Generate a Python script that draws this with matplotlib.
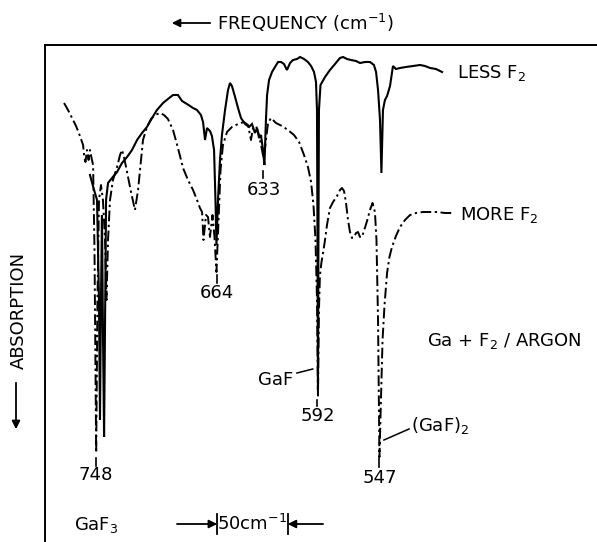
import matplotlib
matplotlib.use("Agg")
import matplotlib.pyplot as plt

plt.rcParams['font.family'] = ['DejaVu Sans']
plt.rcParams['mathtext.fontset'] = 'dejavusans'

# ---- data: wavenumber (cm^-1) and relative transmission (arb. units) ----
less_f2_freq = [753.7, 750.8, 748.7, 747.3, 746.6, 745.9, 745.2, 744.5, 743.7, 743.0,
                742.3, 740.9, 738.1, 734.5, 731.0, 727.4, 723.9, 720.3, 716.8, 713.3,
                709.7, 706.2, 701.9, 698.4, 694.8, 691.3, 688.4, 684.9, 680.6, 677.8,
                675.0, 673.5, 672.1, 670.7, 668.6, 667.2, 665.7, 664.7, 664.0, 662.9,
                661.5, 660.1, 657.9, 655.8, 654.4, 653.0, 650.8, 648.7, 646.6, 643.7,
                640.9, 638.8, 636.7, 635.2, 633.8, 632.4, 631.0, 630.0, 628.9, 628.1,
                626.7, 624.6, 622.5, 620.3, 618.2, 616.1, 614.0, 611.8, 609.7, 606.9,
                604.7, 601.9, 599.1, 596.9, 594.8, 593.4, 592.7, 592.3, 592.0, 591.7,
                591.3, 590.2, 587.0, 583.5, 579.9, 576.4, 574.2, 571.4, 568.6, 565.0,
                562.2, 558.6, 555.1, 552.3, 550.8, 549.4, 548.0, 547.0, 545.9, 544.5,
                543.0, 540.9, 538.8, 536.7, 533.8, 529.6, 524.6, 519.6, 516.1, 512.5,
                508.3, 504.0]
less_f2_trans = [73.4, 70.4, 68.4, 48.4, 24.4, 48.4, 65.4, 42.4, 21.0, 44.4,
                 68.4, 71.8, 72.8, 74.0, 75.8, 77.0, 78.4, 80.4, 81.8, 83.0,
                 84.8, 86.4, 87.8, 88.6, 89.4, 89.4, 88.2, 87.6, 86.8, 86.4,
                 85.4, 84.0, 80.4, 82.8, 82.2, 81.2, 78.4, 68.4, 59.4, 68.4,
                 76.4, 81.4, 86.4, 90.4, 91.8, 91.2, 89.0, 86.8, 84.8, 83.6,
                 83.0, 83.6, 81.8, 82.8, 80.8, 81.4, 78.4, 75.4, 84.4, 89.4,
                 92.4, 94.0, 95.0, 96.0, 96.0, 95.6, 94.4, 95.8, 96.4, 96.6,
                 97.0, 96.6, 96.0, 95.2, 94.0, 92.0, 86.4, 58.4, 30.4, 58.4,
                 86.4, 91.4, 93.0, 94.4, 95.6, 96.8, 97.0, 96.6, 96.4, 96.2,
                 95.8, 96.0, 96.0, 95.4, 94.0, 90.4, 84.4, 73.8, 86.4, 88.4,
                 89.2, 91.2, 95.2, 94.6, 94.8, 95.0, 95.2, 95.4, 95.2, 94.8,
                 94.6, 94.0]

more_f2_freq = [772.1, 769.3, 766.4, 763.6, 760.8, 758.6, 757.9, 756.9, 755.8, 754.7,
                753.7, 752.6, 751.5, 750.5, 749.3, 748.4, 747.3, 745.9, 744.5, 743.0,
                742.0, 740.9, 739.5, 737.4, 734.5, 732.4, 731.0, 729.6, 727.4, 724.6,
                721.8, 719.6, 717.5, 716.1, 713.3, 710.4, 707.6, 704.0, 701.2, 698.4,
                694.8, 691.3, 687.7, 684.2, 680.6, 677.8, 675.7, 674.2, 673.2, 671.4,
                670.0, 668.6, 666.8, 665.4, 664.0, 662.5, 661.1, 659.4, 656.5, 653.0,
                648.7, 644.5, 641.6, 639.5, 638.1, 635.9, 633.8, 631.7, 630.3, 628.9,
                627.4, 625.3, 621.8, 617.5, 613.3, 609.0, 605.4, 601.9, 599.1, 596.9,
                595.2, 593.75, 592.7, 592.0, 591.3, 590.6, 589.5, 588.4, 587.0, 585.6,
                583.5, 581.3, 578.5, 576.4, 575.0, 573.5, 572.1, 570.7, 569.3, 567.9,
                566.4, 565.0, 563.6, 562.2, 560.8, 559.4, 557.2, 555.1, 553.3, 551.6,
                550.5, 549.4, 548.4, 547.3, 546.2, 544.8, 543.0, 541.3, 539.5, 536.7,
                533.8, 530.3, 526.7, 522.5, 517.5, 512.5, 507.6, 501.9, 496.9]
more_f2_trans = [87.8, 86.4, 84.8, 83.2, 81.2, 79.4, 77.4, 76.0, 78.4, 76.4,
                 78.4, 76.8, 75.4, 58.4, 17.8, 48.4, 68.4, 71.4, 68.4, 60.4,
                 48.4, 60.4, 68.4, 72.4, 75.0, 77.4, 78.4, 77.0, 74.0, 70.0,
                 66.4, 70.4, 76.4, 80.4, 83.0, 84.6, 85.4, 85.8, 85.4, 84.6,
                 82.4, 78.8, 74.8, 72.4, 70.4, 68.4, 66.8, 66.0, 60.4, 65.4,
                 65.0, 61.0, 65.4, 61.0, 54.0, 64.4, 74.4, 79.4, 82.0, 83.0,
                 83.6, 84.0, 83.4, 80.4, 82.8, 83.2, 81.4, 78.4, 76.4, 80.4,
                 83.8, 84.8, 83.8, 83.2, 82.4, 81.4, 80.0, 77.4, 75.0, 72.0,
                 67.4, 60.4, 48.4, 29.0, 46.4, 53.4, 56.0, 57.8, 60.4, 63.4,
                 66.8, 68.0, 69.2, 70.4, 70.8, 70.2, 67.8, 64.4, 62.0, 60.8,
                 61.0, 61.8, 62.0, 61.0, 61.0, 62.2, 64.2, 66.4, 67.8, 66.0,
                 60.4, 44.4, 17.0, 28.4, 40.4, 47.4, 53.8, 57.0, 59.0, 61.2,
                 63.0, 64.4, 65.4, 65.8, 66.0, 66.0, 66.0, 65.8, 65.8]

peak_labels = ["748", "664", "633", "592", "547"]
peak_label_freq = [749.3, 663.5, 630.5, 592.3, 548.0]
peak_label_y = [13.4, 49.8, 70.4, 25.2, 12.8]
peak_tick_freq = [749.3, 663.7, 631.0, 593.0, 548.7]
peak_tick_top = [16.8, 53.4, 74.2, 28.4, 16.8]
peak_tick_bot = [15.2, 51.8, 72.8, 27.2, 15.0]

scale_bar = [663.5, 613.5]   # 50 cm-1 marker

# ---- figure ----
fig = plt.figure(figsize=(5.97, 5.42), dpi=100)
ax = fig.add_axes([45 / 597, 0.0, 552 / 597, 497 / 542])
ax.set_xlim(785.6, 394.1)
ax.set_ylim(0, 99.4)
for s in ['right', 'bottom']:
    ax.spines[s].set_visible(False)
for s in ['left', 'top']:
    ax.spines[s].set_linewidth(1.4)
ax.set_xticks([])
ax.set_yticks([])

ax.plot(less_f2_freq, less_f2_trans, color='black', lw=1.5, solid_joinstyle='miter')
ax.plot(more_f2_freq, more_f2_trans, color='black', lw=1.4,
        linestyle=(0, (5.5, 1.8, 1.2, 1.8)))

fs = 13
for lab, fx, fy in zip(peak_labels, peak_label_freq, peak_label_y):
    ax.text(fx, fy, lab, ha='center', va='center', fontsize=fs)
for fx, t0, t1 in zip(peak_tick_freq, peak_tick_top, peak_tick_bot):
    ax.plot([fx, fx], [t0, t1], color='black', lw=1.2)

# curve labels
ax.text(493.4, 93.8, r"LESS F$_2$", ha='left', va='center', fontsize=fs)
ax.text(491.3, 65.4, r"MORE F$_2$", ha='left', va='center', fontsize=fs)
ax.text(514.7, 40.2, r"Ga + F$_2$ / ARGON", ha='left', va='center', fontsize=fs)

# species labels
ax.text(609.7, 32.4, "GaF", ha='right', va='center', fontsize=fs)
ax.plot([606.9, 595.7], [33.8, 34.6], color='black', lw=1.1)
ax.text(526.0, 23.4, r"(GaF)$_2$", ha='left', va='center', fontsize=fs)
ax.plot([545.2, 527.4], [20.4, 22.6], color='black', lw=1.1)
ax.text(765.0, 3.4, r"GaF$_3$", ha='left', va='center', fontsize=fs)

# 50 cm-1 scale marker
for b in scale_bar:
    ax.plot([b, b], [1.6, 5.6], color='black', lw=1.3, clip_on=False)
ax.annotate("", xy=(scale_bar[0], 3.6), xytext=(692.0, 3.6),
            arrowprops=dict(arrowstyle='-|>', color='black', lw=1.3,
                            mutation_scale=12, shrinkA=0, shrinkB=0))
ax.annotate("", xy=(scale_bar[1], 3.6), xytext=(588.4, 3.6),
            arrowprops=dict(arrowstyle='-|>', color='black', lw=1.3,
                            mutation_scale=12, shrinkA=0, shrinkB=0))
ax.text((scale_bar[0] + scale_bar[1]) / 2, 3.6, r"50cm$^{-1}$", ha='center',
        va='center', fontsize=fs)

# top frequency label
fig.text(217 / 597, 1 - 23 / 542, r"FREQUENCY (cm$^{-1}$)", ha='left',
         va='center', fontsize=fs)
fig.add_artist(matplotlib.patches.FancyArrowPatch(
    (213 / 597, 1 - 23 / 542), (169 / 597, 1 - 23 / 542),
    transform=fig.transFigure, arrowstyle='-|>', mutation_scale=12,
    color='black', lw=1.3))

# side absorption label
fig.text(19 / 597, 1 - 310 / 542, "ABSORPTION", rotation=90, ha='center',
         va='center', fontsize=fs)
fig.add_artist(matplotlib.patches.FancyArrowPatch(
    (16 / 597, 1 - 380 / 542), (16 / 597, 1 - 432 / 542),
    transform=fig.transFigure, arrowstyle='-|>', mutation_scale=12,
    color='black', lw=1.3))

fig.savefig("out.png", dpi=100)
